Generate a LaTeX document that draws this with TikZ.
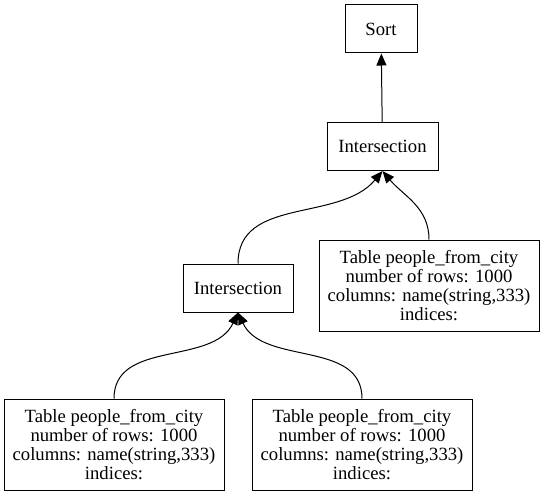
\documentclass[tikz,border=0pt]{standalone}
\usepackage{fontspec}
\setmainfont{Liberation Serif}
\usetikzlibrary{arrows.meta,positioning}

\begin{document}
\begin{tikzpicture}[x=1pt,y=1pt,
    box/.style={draw, line width=1pt, minimum height=48pt, inner sep=0pt,
      font=\fontsize{18.67}{19}\selectfont, align=center},
    tbl/.style={box, minimum width=220pt, minimum height=91pt},
    edge/.style={line width=1pt, -{Triangle[length=12pt,width=10pt]}}]
    \useasboundingbox (0,0) rectangle (545,496);

    % operators
    \node[box, minimum width=72pt] (sort) at (381,467) {Sort};
    \node[box, minimum width=111pt] (inA) at (382.5,349.5) {Intersection};
    \node[box, minimum width=110pt] (inB) at (238,208) {Intersection};

    % tables
    \node[tbl] (tR) at (429,210.5)
      {Table people\_from\_city\\number of rows: 1000\\columns: name(string,333)\\indices:};
    \node[tbl] (tL) at (114,51.5)
      {Table people\_from\_city\\number of rows: 1000\\columns: name(string,333)\\indices:};
    \node[tbl] (tM) at (362,51.5)
      {Table people\_from\_city\\number of rows: 1000\\columns: name(string,333)\\indices:};

    \draw[edge] (inA) -- (sort);
    \draw[edge] (inB.north) to[out=90, in=-130] (inA.south);
    \draw[edge] (tR.north) to[out=90, in=-50] (inA.south);
    \draw[edge] (tL.north) to[out=90, in=-115] (inB.south);
    \draw[edge] (tM.north) to[out=90, in=-65] (inB.south);
\end{tikzpicture}
\end{document}
